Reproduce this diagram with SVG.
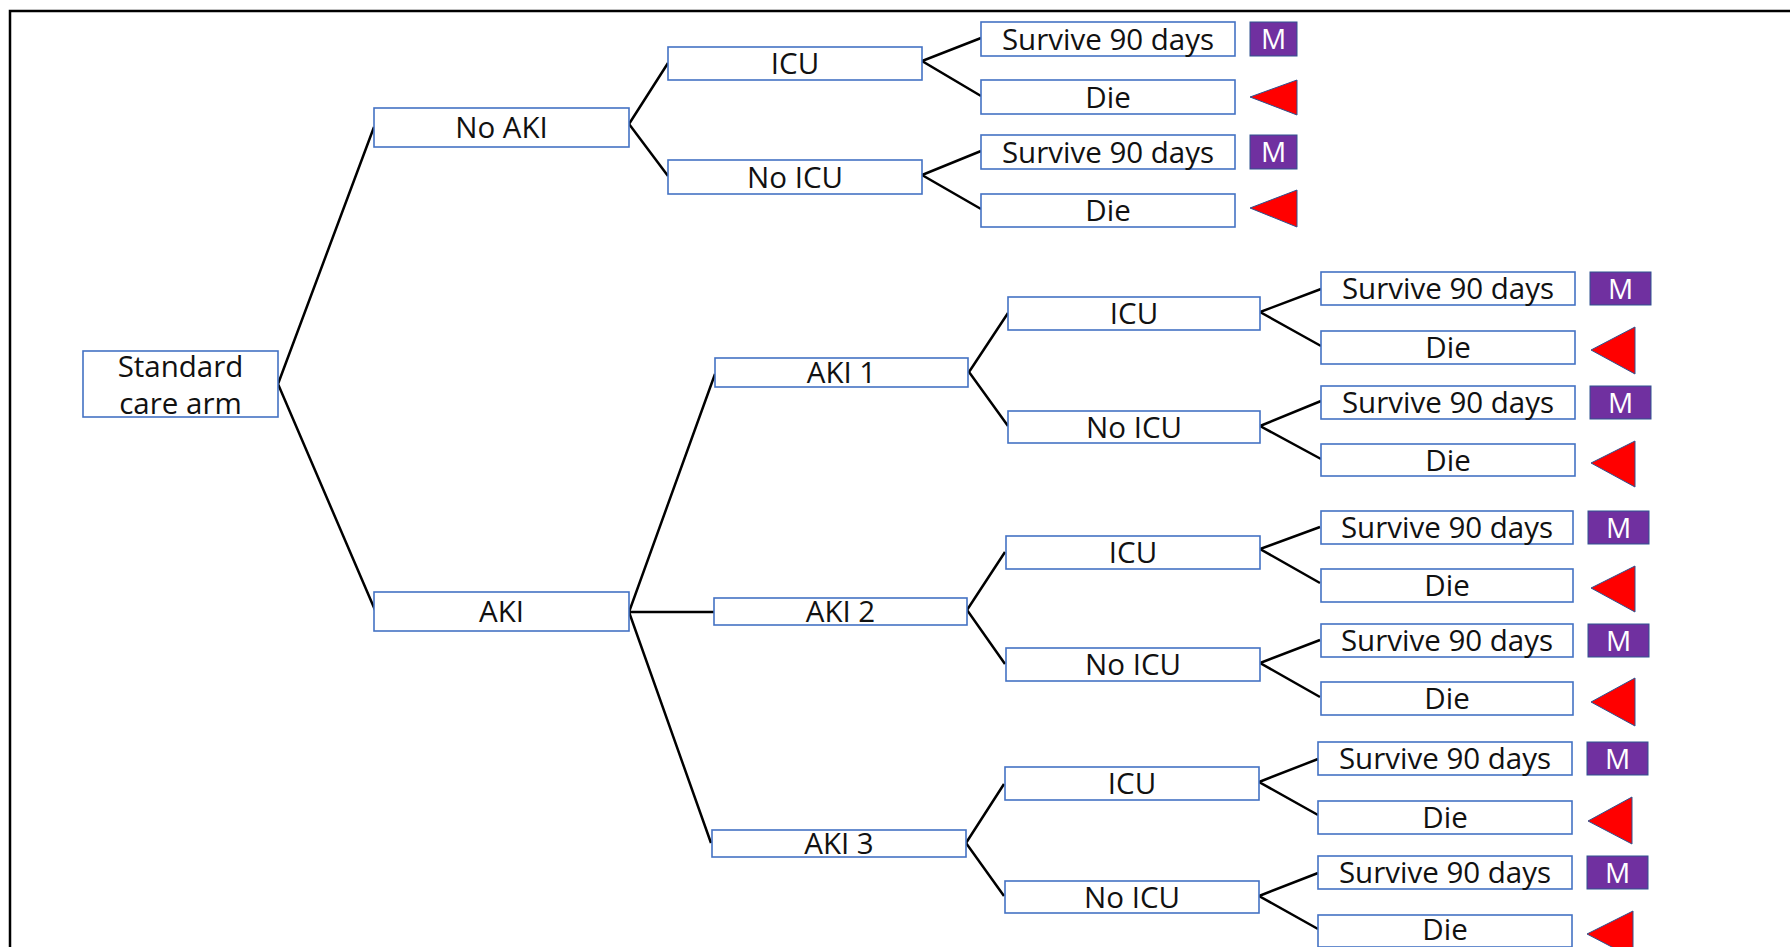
<svg xmlns="http://www.w3.org/2000/svg" width="1790" height="947" viewBox="0 0 1790 947">
<style>
.b{fill:#fff;stroke:#4472C4;stroke-width:1.6}
.t{font-family:"Open Sans","Liberation Sans",sans-serif;font-size:29.5px;fill:#111;text-anchor:middle}
.m{fill:#7030A0;stroke:#2F528F;stroke-width:1}
.mt{font-family:"Open Sans","Liberation Sans",sans-serif;font-size:28px;fill:#fff;text-anchor:middle}
.r{fill:#FF0000;stroke:#2F528F;stroke-width:1}
.c{fill:none;stroke:#000;stroke-width:2.5;stroke-linejoin:miter}
</style>
<rect width="1790" height="947" fill="#fff"/>
<path d="M10,947 V11 H1790" fill="none" stroke="#000" stroke-width="2.5"/>
<g id="connectors" class="c">
<path d="M374,127 L278,384 L375,610"/>
<path d="M668,63 L629,124 L668,176"/>
<path d="M715,374 L629,612 L711,843 M629,612 H714"/>
<path d="M981,38 L922,61 L981,96"/>
<path d="M981,151 L922,175 L981,209"/>
<path d="M1008,313 L969,372 L1008,426"/>
<path d="M1321,289 L1260,312 L1321,346"/>
<path d="M1321,401 L1260,426 L1321,459"/>
<path d="M1005,552 L967,610 L1005,664"/>
<path d="M1320,527 L1260,549 L1320,583"/>
<path d="M1320,640 L1260,663 L1320,697"/>
<path d="M1004,784 L966,843 L1004,896"/>
<path d="M1318,759 L1259,782 L1318,815"/>
<path d="M1318,873 L1259,896 L1318,929"/>
</g>
<g id="root"><rect class="b" x="83" y="351" width="195" height="66"/><text class="t" x="180.5" y="376.5">Standard</text><text class="t" x="180.5" y="414">care arm</text></g>
<g id="noaki"><rect class="b" x="374" y="108" width="255" height="39"/><text class="t" x="501.5" y="138">No AKI</text></g>
<g id="aki"><rect class="b" x="374" y="592" width="255" height="39"/><text class="t" x="501.5" y="622">AKI</text></g>
<g id="noaki-icu"><rect class="b" x="668" y="47" width="254" height="33"/><text class="t" x="795" y="74">ICU</text></g>
<g id="noaki-noicu"><rect class="b" x="668" y="160" width="254" height="34"/><text class="t" x="795" y="187.5">No ICU</text></g>
<g id="aki1"><rect class="b" x="715" y="358" width="253" height="29"/><text class="t" x="841.5" y="383">AKI 1</text></g>
<g id="aki2"><rect class="b" x="714" y="598" width="253" height="27"/><text class="t" x="840.5" y="622">AKI 2</text></g>
<g id="aki3"><rect class="b" x="712" y="830" width="254" height="27"/><text class="t" x="839" y="854">AKI 3</text></g>
<g id="aki1-icu"><rect class="b" x="1008" y="297" width="252" height="33"/><text class="t" x="1134" y="324">ICU</text></g>
<g id="aki1-noicu"><rect class="b" x="1008" y="411" width="252" height="32"/><text class="t" x="1134" y="437.5">No ICU</text></g>
<g id="aki2-icu"><rect class="b" x="1006" y="536" width="254" height="33"/><text class="t" x="1133" y="563">ICU</text></g>
<g id="aki2-noicu"><rect class="b" x="1006" y="648" width="254" height="33"/><text class="t" x="1133" y="675">No ICU</text></g>
<g id="aki3-icu"><rect class="b" x="1005" y="767" width="254" height="33"/><text class="t" x="1132" y="794">ICU</text></g>
<g id="aki3-noicu"><rect class="b" x="1005" y="881" width="254" height="32"/><text class="t" x="1132" y="907.5">No ICU</text></g>
<g id="leaf1"><rect class="b" x="981" y="22" width="254" height="34"/><text class="t" x="1108" y="49.5">Survive 90 days</text><rect class="m" x="1250" y="22" width="47" height="34"/><text class="mt" x="1273.5" y="49">M</text></g>
<g id="leaf2"><rect class="b" x="981" y="80" width="254" height="34"/><text class="t" x="1108" y="107.5">Die</text><polygon class="r" points="1250,97 1297,80 1297,115"/></g>
<g id="leaf3"><rect class="b" x="981" y="135" width="254" height="34"/><text class="t" x="1108" y="162.5">Survive 90 days</text><rect class="m" x="1250" y="135" width="47" height="34"/><text class="mt" x="1273.5" y="162">M</text></g>
<g id="leaf4"><rect class="b" x="981" y="194" width="254" height="33"/><text class="t" x="1108" y="221">Die</text><polygon class="r" points="1250,208 1297,190 1297,227"/></g>
<g id="leaf5"><rect class="b" x="1321" y="272" width="254" height="33"/><text class="t" x="1448" y="299">Survive 90 days</text><rect class="m" x="1590" y="272" width="61" height="33"/><text class="mt" x="1620.5" y="298.5">M</text></g>
<g id="leaf6"><rect class="b" x="1321" y="331" width="254" height="33"/><text class="t" x="1448" y="358">Die</text><polygon class="r" points="1591,350 1635,327 1635,374"/></g>
<g id="leaf7"><rect class="b" x="1321" y="386" width="254" height="33"/><text class="t" x="1448" y="413">Survive 90 days</text><rect class="m" x="1590" y="386" width="61" height="33"/><text class="mt" x="1620.5" y="412.5">M</text></g>
<g id="leaf8"><rect class="b" x="1321" y="444" width="254" height="32"/><text class="t" x="1448" y="470.5">Die</text><polygon class="r" points="1591,463 1635,441 1635,487"/></g>
<g id="leaf9"><rect class="b" x="1321" y="511" width="252" height="33"/><text class="t" x="1447" y="538">Survive 90 days</text><rect class="m" x="1588" y="511" width="61" height="33"/><text class="mt" x="1618.5" y="537.5">M</text></g>
<g id="leaf10"><rect class="b" x="1321" y="569" width="252" height="33"/><text class="t" x="1447" y="596">Die</text><polygon class="r" points="1591,588 1635,566 1635,612"/></g>
<g id="leaf11"><rect class="b" x="1321" y="624" width="252" height="33"/><text class="t" x="1447" y="651">Survive 90 days</text><rect class="m" x="1588" y="624" width="61" height="33"/><text class="mt" x="1618.5" y="650.5">M</text></g>
<g id="leaf12"><rect class="b" x="1321" y="682" width="252" height="33"/><text class="t" x="1447" y="709">Die</text><polygon class="r" points="1591,702 1635,678 1635,726"/></g>
<g id="leaf13"><rect class="b" x="1318" y="742" width="254" height="33"/><text class="t" x="1445" y="769">Survive 90 days</text><rect class="m" x="1587" y="742" width="61" height="33"/><text class="mt" x="1617.5" y="768.5">M</text></g>
<g id="leaf14"><rect class="b" x="1318" y="801" width="254" height="33"/><text class="t" x="1445" y="828">Die</text><polygon class="r" points="1588,821 1632,797 1632,844"/></g>
<g id="leaf15"><rect class="b" x="1318" y="856" width="254" height="33"/><text class="t" x="1445" y="883">Survive 90 days</text><rect class="m" x="1587" y="856" width="61" height="33"/><text class="mt" x="1617.5" y="882.5">M</text></g>
<g id="leaf16"><rect class="b" x="1318" y="915" width="254" height="32"/><text class="t" x="1445" y="940">Die</text><polygon class="r" points="1587,934 1633,911 1633,958"/></g>
</svg>
